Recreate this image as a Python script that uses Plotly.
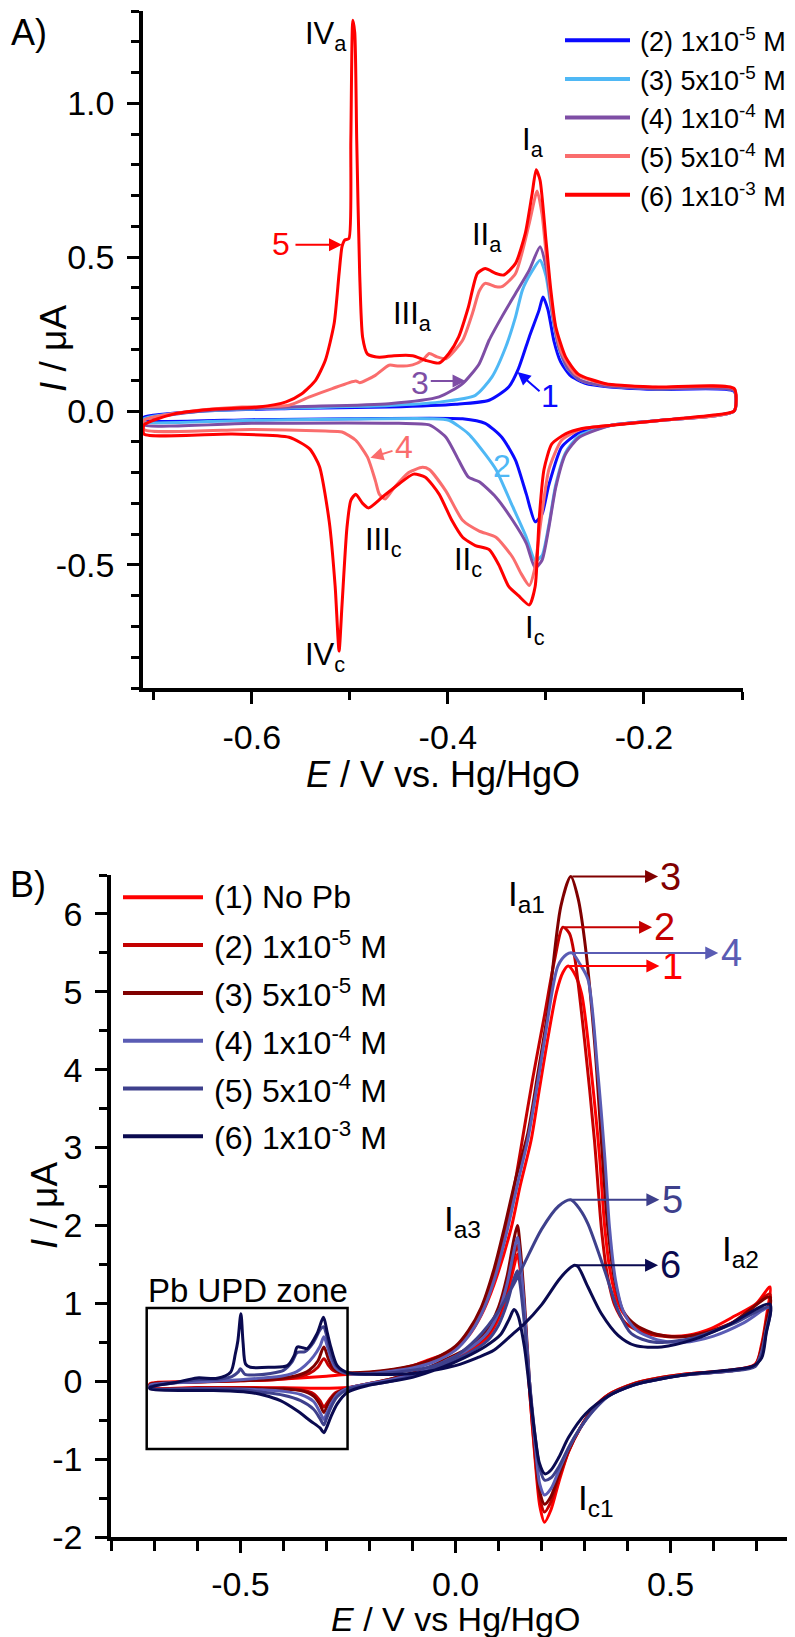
import plotly.graph_objects as go

W, H = 795, 1637
FONT = "Liberation Sans, Arial, sans-serif"

# ---------------- panel A : Pb UPD region, five Pb concentrations ----------------
a_names = ["(2) 1x10<sup>-5</sup> M", "(3) 5x10<sup>-5</sup> M", "(4) 1x10<sup>-4</sup> M",
           "(5) 5x10<sup>-4</sup> M", "(6) 1x10<sup>-3</sup> M"]
a_colors = ["#0a0aff", "#4fb8f5", "#7e4ea5", "#fa6d6d", "#ff0000"]

a2_e = [-0.710, -0.650, -0.560, -0.460, -0.392, -0.358, -0.338, -0.328, -0.317, -0.307, -0.303,
        -0.298, -0.292, -0.285, -0.275, -0.260, -0.235, -0.188, -0.108,
        -0.108, -0.182, -0.233, -0.266, -0.284, -0.297, -0.304, -0.311, -0.320, -0.331, -0.345,
        -0.362, -0.385, -0.500, -0.600, -0.710, -0.710]
a2_i = [-0.020, 0.000, 0.008, 0.013, 0.022, 0.035, 0.078, 0.138, 0.241, 0.328, 0.371,
        0.330, 0.230, 0.160, 0.115, 0.090, 0.078, 0.070, 0.064,
        0.000, -0.030, -0.046, -0.070, -0.117, -0.240, -0.335, -0.360, -0.270, -0.160, -0.085,
        -0.040, -0.025, -0.025, -0.028, -0.030, -0.020]

a3_e = [-0.710, -0.650, -0.560, -0.460, -0.409, -0.372, -0.355, -0.341, -0.331, -0.324, -0.315,
        -0.306, -0.300, -0.294, -0.287, -0.278, -0.265, -0.240, -0.188, -0.108,
        -0.108, -0.182, -0.233, -0.266, -0.280, -0.290, -0.297, -0.304, -0.311, -0.320, -0.334,
        -0.351, -0.362, -0.379, -0.399, -0.419, -0.600, -0.710, -0.710]
a3_i = [-0.025, 0.000, 0.010, 0.018, 0.029, 0.051, 0.111, 0.208, 0.306, 0.393, 0.450,
        0.490, 0.440, 0.320, 0.205, 0.138, 0.100, 0.082, 0.072, 0.066,
        0.000, -0.030, -0.046, -0.080, -0.135, -0.240, -0.370, -0.470, -0.486, -0.410, -0.310,
        -0.190, -0.140, -0.074, -0.030, -0.025, -0.030, -0.035, -0.025]

a4_e = [-0.710, -0.650, -0.562, -0.460, -0.409, -0.385, -0.368, -0.358, -0.345, -0.331, -0.317,
        -0.306, -0.300, -0.294, -0.287, -0.278, -0.265, -0.240, -0.188, -0.108,
        -0.108, -0.182, -0.233, -0.266, -0.280, -0.290, -0.297, -0.304, -0.311, -0.320, -0.334,
        -0.351, -0.368, -0.379, -0.389, -0.402, -0.419, -0.450, -0.600, -0.710, -0.710]
a4_i = [-0.030, 0.000, 0.013, 0.024, 0.046, 0.089, 0.154, 0.230, 0.306, 0.382, 0.458,
        0.534, 0.470, 0.330, 0.210, 0.140, 0.100, 0.082, 0.072, 0.066,
        0.000, -0.030, -0.046, -0.085, -0.140, -0.248, -0.378, -0.485, -0.510, -0.430, -0.355,
        -0.280, -0.230, -0.215, -0.160, -0.085, -0.045, -0.040, -0.040, -0.045, -0.030]

a5_e = [-0.710, -0.660, -0.610, -0.562, -0.541, -0.518, -0.494, -0.490, -0.474, -0.460, -0.450,
        -0.436, -0.426, -0.419, -0.411, -0.402, -0.385, -0.375, -0.368, -0.362, -0.352, -0.345,
        -0.331, -0.317, -0.309, -0.304, -0.298, -0.292, -0.284, -0.270, -0.240, -0.188, -0.108,
        -0.108, -0.182, -0.233, -0.265, -0.284, -0.297, -0.305, -0.312, -0.317, -0.325, -0.334,
        -0.351, -0.368, -0.385, -0.402, -0.419, -0.426, -0.440, -0.455, -0.464, -0.470, -0.474,
        -0.482, -0.494, -0.508, -0.525, -0.600, -0.710, -0.710]
a5_i = [-0.030, 0.000, 0.013, 0.019, 0.046, 0.073, 0.098, 0.092, 0.116, 0.149, 0.146,
        0.150, 0.165, 0.187, 0.176, 0.170, 0.230, 0.317, 0.390, 0.415, 0.405, 0.404,
        0.447, 0.610, 0.715, 0.640, 0.450, 0.300, 0.190, 0.120, 0.088, 0.077, 0.072,
        0.000, -0.030, -0.046, -0.060, -0.095, -0.190, -0.355, -0.520, -0.567, -0.530, -0.475,
        -0.410, -0.390, -0.355, -0.260, -0.190, -0.183, -0.200, -0.250, -0.286, -0.270, -0.226,
        -0.150, -0.095, -0.068, -0.065, -0.060, -0.060, -0.030]

a6_e = [-0.710, -0.680, -0.643, -0.593, -0.565, -0.549, -0.535, -0.525, -0.516, -0.511, -0.508,
        -0.505, -0.501, -0.499, -0.497, -0.495, -0.493, -0.490, -0.487, -0.482, -0.470, -0.455,
        -0.436, -0.423, -0.409, -0.399, -0.389, -0.379, -0.370, -0.362, -0.351, -0.343, -0.331,
        -0.321, -0.314, -0.310, -0.306, -0.300, -0.295, -0.290, -0.280, -0.267, -0.239, -0.188,
        -0.108,
        -0.108, -0.131, -0.182, -0.233, -0.263, -0.280, -0.294, -0.302, -0.307, -0.311, -0.317,
        -0.328, -0.338, -0.348, -0.358, -0.372, -0.385, -0.396, -0.409, -0.423, -0.435, -0.450,
        -0.467, -0.481, -0.487, -0.494, -0.499, -0.503, -0.508, -0.511, -0.515, -0.521, -0.531,
        -0.541, -0.562, -0.620, -0.710, -0.710]
a6_i = [-0.045, -0.010, 0.005, 0.013, 0.030, 0.056, 0.100, 0.165, 0.285, 0.447, 0.534,
        0.556, 0.560, 0.880, 1.270, 1.230, 0.880, 0.447, 0.240, 0.185, 0.175, 0.180,
        0.180, 0.165, 0.156, 0.187, 0.241, 0.339, 0.447, 0.463, 0.447, 0.442, 0.480,
        0.578, 0.708, 0.784, 0.750, 0.556, 0.393, 0.274, 0.176, 0.120, 0.089, 0.078,
        0.073,
        0.000, -0.014, -0.030, -0.046, -0.057, -0.074, -0.107, -0.190, -0.355, -0.570, -0.630,
        -0.600, -0.570, -0.500, -0.450, -0.437, -0.410, -0.355, -0.270, -0.215, -0.205, -0.237,
        -0.280, -0.315, -0.300, -0.270, -0.290, -0.380, -0.630, -0.780, -0.570, -0.360, -0.180,
        -0.123, -0.085, -0.075, -0.075, -0.045]

a_curves = [(a2_e, a2_i), (a3_e, a3_i), (a4_e, a4_i), (a5_e, a5_i), (a6_e, a6_i)]

a_xticks = [-0.6, -0.4, -0.2]
a_xtext = ["-0.6", "-0.4", "-0.2"]
a_yticks = [-0.5, 0.0, 0.5, 1.0]
a_ytext = ["-0.5", "0.0", "0.5", "1.0"]

# ---------------- panel B : full window, six solutions ----------------
b_names = ["(1) No Pb", "(2) 1x10<sup>-5</sup> M", "(3) 5x10<sup>-5</sup> M",
           "(4) 1x10<sup>-4</sup> M", "(5) 5x10<sup>-4</sup> M", "(6) 1x10<sup>-3</sup> M"]
b_colors = ["#ff0000", "#c40000", "#800000", "#5a5cb4", "#3e408c", "#0a0a50"]

rev_e = [0.722, 0.712, 0.697, 0.637, 0.531, 0.450, 0.414, 0.356, 0.320, 0.290, 0.263, 0.240,
         0.222, 0.207, 0.196, 0.185, 0.172, 0.160, 0.150, 0.144, 0.135, 0.120, 0.100, 0.074,
         0.027, -0.027, -0.065, -0.150, -0.250]

b1_e = [-0.710, -0.600, -0.500, -0.400, -0.300, -0.250, -0.200, -0.150, -0.100, -0.065, -0.030,
        0.000, 0.030, 0.060, 0.090, 0.130, 0.150, 0.176, 0.195, 0.214, 0.235, 0.250, 0.262, 0.275,
        0.293, 0.316, 0.335, 0.347, 0.360, 0.378, 0.401, 0.440, 0.494, 0.540, 0.595, 0.650, 0.700,
        0.731] + rev_e + [-0.400, -0.500, -0.600, -0.710, -0.710]
b1_i = [-0.030, -0.005, 0.005, 0.030, 0.065, 0.090, 0.110, 0.140, 0.200, 0.270, 0.340,
        0.420, 0.580, 0.850, 1.250, 1.980, 2.500, 3.100, 3.750, 4.380, 5.000, 5.250, 5.330, 5.250,
        4.980, 3.960, 2.880, 1.980, 1.400, 1.000, 0.800, 0.640, 0.580, 0.590, 0.680, 0.840, 1.000,
        1.210,
        0.800, 0.480, 0.220, 0.140, 0.090, 0.020, -0.030, -0.170, -0.350, -0.600, -0.900, -1.300,
        -1.650, -1.810, -1.600, -1.000, -0.100, 0.900, 1.450, 1.630, 1.450, 1.100, 0.800, 0.560,
        0.380, 0.250, 0.150, 0.020, -0.080, -0.085, -0.080, -0.080, -0.080, -0.030]

b2_e = [-0.710, -0.600, -0.500, -0.420, -0.370, -0.340, -0.320, -0.306, -0.295, -0.285, -0.270,
        -0.250, -0.200, -0.100, -0.050, 0.000, 0.030, 0.060, 0.090, 0.118, 0.140, 0.160, 0.180,
        0.207, 0.230, 0.250, 0.265, 0.277, 0.300, 0.323, 0.339, 0.352, 0.370, 0.395, 0.440, 0.494,
        0.540, 0.600, 0.660, 0.731] + rev_e + [-0.280, -0.295, -0.306, -0.315, -0.330, -0.360,
        -0.400, -0.500, -0.600, -0.710, -0.710]
b2_i = [-0.040, -0.010, 0.005, 0.020, 0.050, 0.100, 0.180, 0.290, 0.200, 0.140, 0.110,
        0.100, 0.110, 0.190, 0.270, 0.420, 0.600, 0.900, 1.350, 1.980, 2.600, 3.250, 3.900,
        4.700, 5.400, 5.830, 5.750, 5.450, 4.380, 3.100, 1.980, 1.400, 0.980, 0.750, 0.620, 0.570,
        0.580, 0.660, 0.800, 1.120,
        0.750, 0.450, 0.210, 0.140, 0.090, 0.020, -0.030, -0.170, -0.350, -0.600, -0.900, -1.250,
        -1.550, -1.680, -1.500, -0.950, -0.100, 0.950, 1.550, 1.750, 1.580, 1.200, 0.850, 0.600,
        0.400, 0.260, 0.160, 0.030, -0.090, -0.150, -0.250, -0.330, -0.250, -0.160, -0.110,
        -0.090, -0.085, -0.085, -0.085, -0.040]

b3_e = [-0.710, -0.600, -0.500, -0.420, -0.370, -0.340, -0.320, -0.306, -0.295, -0.285, -0.270,
        -0.250, -0.200, -0.100, -0.050, 0.000, 0.030, 0.060, 0.090, 0.114, 0.140, 0.168, 0.190,
        0.214, 0.245, 0.268, 0.285, 0.300, 0.323, 0.339, 0.354, 0.370, 0.390, 0.420, 0.470, 0.520,
        0.580, 0.640, 0.731] + rev_e + [-0.280, -0.295, -0.306, -0.315, -0.330, -0.360, -0.400,
        -0.500, -0.600, -0.710, -0.710]
b3_i = [-0.040, -0.010, 0.010, 0.030, 0.070, 0.140, 0.260, 0.440, 0.280, 0.170, 0.120,
        0.110, 0.120, 0.200, 0.290, 0.450, 0.650, 0.950, 1.450, 1.980, 2.600, 3.180, 3.900,
        4.720, 6.100, 6.480, 6.200, 5.670, 4.380, 3.100, 1.980, 1.300, 0.900, 0.720, 0.600, 0.570,
        0.620, 0.740, 1.080,
        0.720, 0.430, 0.200, 0.130, 0.080, 0.010, -0.040, -0.180, -0.360, -0.600, -0.880, -1.200,
        -1.480, -1.580, -1.420, -0.850, 0.000, 1.050, 1.750, 2.000, 1.800, 1.350, 0.950, 0.660,
        0.420, 0.270, 0.170, 0.030, -0.090, -0.170, -0.280, -0.400, -0.300, -0.190, -0.120,
        -0.100, -0.090, -0.090, -0.090, -0.040]

b4_e = [-0.710, -0.600, -0.500, -0.450, -0.400, -0.370, -0.350, -0.330, -0.315, -0.306, -0.298,
        -0.290, -0.280, -0.265, -0.250, -0.200, -0.100, -0.050, 0.000, 0.030, 0.060, 0.090,
        0.122, 0.145, 0.168, 0.190, 0.207, 0.238, 0.258, 0.271, 0.290, 0.308, 0.331, 0.347, 0.358,
        0.372, 0.390, 0.420, 0.470, 0.530, 0.600, 0.670, 0.731] + rev_e + [-0.275, -0.290, -0.300,
        -0.306, -0.315, -0.330, -0.360, -0.400, -0.450, -0.500, -0.600, -0.710, -0.710]
b4_i = [-0.050, -0.010, 0.020, 0.040, 0.070, 0.120, 0.200, 0.320, 0.450, 0.570, 0.450,
        0.300, 0.180, 0.120, 0.100, 0.100, 0.170, 0.250, 0.400, 0.580, 0.860, 1.300,
        1.980, 2.550, 3.100, 3.800, 4.380, 5.330, 5.480, 5.500, 5.350, 5.160, 3.960, 2.880, 1.980,
        1.300, 0.900, 0.660, 0.530, 0.500, 0.580, 0.750, 0.950,
        0.650, 0.380, 0.200, 0.130, 0.080, 0.000, -0.050, -0.190, -0.380, -0.600, -0.860, -1.150,
        -1.380, -1.460, -1.320, -0.800, 0.000, 0.950, 1.600, 1.850, 1.650, 1.250, 0.880, 0.620,
        0.400, 0.250, 0.150, 0.020, -0.090, -0.170, -0.300, -0.420, -0.490, -0.400, -0.260,
        -0.170, -0.130, -0.110, -0.100, -0.095, -0.090, -0.050]

b5_e = [-0.710, -0.650, -0.600, -0.550, -0.520, -0.505, -0.500, -0.490, -0.470, -0.430, -0.400,
        -0.380, -0.368, -0.350, -0.330, -0.315, -0.307, -0.298, -0.290, -0.278, -0.260, -0.250,
        -0.200, -0.100, -0.050, 0.000, 0.050, 0.100, 0.150, 0.200, 0.240, 0.268, 0.290, 0.308,
        0.347, 0.378, 0.409, 0.463, 0.556, 0.650, 0.731] + rev_e + [-0.275, -0.290, -0.300,
        -0.306, -0.315, -0.330, -0.360, -0.400, -0.450, -0.500, -0.600, -0.710, -0.710]
b5_i = [-0.070, -0.020, 0.020, 0.030, 0.060, 0.120, 0.160, 0.090, 0.080, 0.100, 0.140,
        0.250, 0.370, 0.380, 0.500, 0.660, 0.700, 0.550, 0.360, 0.200, 0.120, 0.100,
        0.090, 0.140, 0.200, 0.320, 0.550, 0.900, 1.400, 1.950, 2.250, 2.330, 2.200, 2.020,
        1.420, 0.910, 0.610, 0.500, 0.560, 0.750, 0.950,
        0.620, 0.350, 0.190, 0.130, 0.080, 0.000, -0.050, -0.190, -0.380, -0.600, -0.850, -1.100,
        -1.240, -1.270, -1.120, -0.700, 0.000, 0.750, 1.250, 1.420, 1.300, 1.000, 0.720, 0.520,
        0.350, 0.220, 0.130, 0.000, -0.100, -0.200, -0.340, -0.480, -0.560, -0.480, -0.360,
        -0.250, -0.180, -0.140, -0.110, -0.100, -0.090, -0.070]

b6_e = [-0.710, -0.648, -0.601, -0.554, -0.523, -0.512, -0.506, -0.499, -0.494, -0.488, -0.477,
        -0.430, -0.391, -0.375, -0.368, -0.355, -0.345, -0.322, -0.307, -0.298, -0.290, -0.275,
        -0.251, -0.200, -0.100, -0.050, 0.000, 0.050, 0.090, 0.136, 0.157, 0.200, 0.240, 0.265,
        0.277, 0.285, 0.308, 0.339, 0.378, 0.417, 0.479, 0.556, 0.634, 0.731,
        0.722, 0.712, 0.690, 0.632, 0.531, 0.450, 0.414, 0.356, 0.302, 0.263, 0.240, 0.222, 0.208,
        0.195, 0.185, 0.172, 0.160, 0.145, 0.136, 0.125, 0.105, 0.070, 0.020, -0.030, -0.100,
        -0.200, -0.251, -0.275, -0.290, -0.300, -0.306, -0.315, -0.337, -0.368, -0.407, -0.445,
        -0.484, -0.562, -0.710, -0.710]
b6_i = [-0.080, -0.013, 0.043, 0.039, 0.116, 0.350, 0.520, 0.866, 0.500, 0.220, 0.180,
        0.180, 0.200, 0.330, 0.440, 0.430, 0.420, 0.610, 0.820, 0.620, 0.440, 0.200,
        0.110, 0.090, 0.100, 0.140, 0.200, 0.300, 0.400, 0.620, 0.720, 0.980, 1.300, 1.450,
        1.490, 1.470, 1.210, 0.870, 0.590, 0.460, 0.440, 0.540, 0.720, 0.990,
        0.600, 0.300, 0.190, 0.140, 0.080, 0.000, -0.050, -0.190, -0.420, -0.720, -0.980, -1.140,
        -1.190, -1.050, -0.700, -0.100, 0.450, 0.850, 0.920, 0.800, 0.600, 0.450, 0.300, 0.180,
        0.050, -0.050, -0.140, -0.290, -0.460, -0.600, -0.660, -0.600, -0.510, -0.380, -0.250,
        -0.180, -0.140, -0.120, -0.100, -0.080]

b_curves = [(b1_e, b1_i), (b2_e, b2_i), (b3_e, b3_i), (b4_e, b4_i), (b5_e, b5_i), (b6_e, b6_i)]
b_arrow_end = [0.474, 0.457, 0.471, 0.611, 0.474, 0.471]   # where each peak arrow stops

b_xticks = [-0.5, 0.0, 0.5]
b_xtext = ["-0.5", "0.0", "0.5"]
b_yticks = [-2, -1, 0, 1, 2, 3, 4, 5, 6]
b_ytext = ["-2", "-1", "0", "1", "2", "3", "4", "5", "6"]


def px(x):
    return x / W


def py(y):
    return 1 - y / H


fig = go.Figure()

for (e, i), c, n in zip(a_curves, a_colors, a_names):
    fig.add_trace(go.Scatter(x=e, y=i, mode="lines", name=n,
                             line=dict(color=c, width=3, shape="spline", smoothing=0.6),
                             xaxis="x", yaxis="y"))
for (e, i), c, n in zip(b_curves, b_colors, b_names):
    fig.add_trace(go.Scatter(x=e, y=i, mode="lines", name=n,
                             line=dict(color=c, width=3, shape="spline", smoothing=0.8),
                             xaxis="x2", yaxis="y2"))

axis_style = dict(showline=True, linewidth=3.5, linecolor="black", ticks="outside",
                  ticklen=12, tickwidth=3, tickcolor="black", showgrid=False, zeroline=False,
                  tickfont=dict(size=34, color="black"), automargin=False, tickmode="array")

fig.update_layout(
    width=W, height=H, margin=dict(l=0, r=0, t=0, b=0),
    plot_bgcolor="white", paper_bgcolor="white", showlegend=False,
    font=dict(family=FONT, color="black"),
    xaxis=dict(axis_style, domain=[px(135), px(735)], anchor="y", range=[-0.711, -0.099],
               tickvals=a_xticks, ticktext=a_xtext, ticklabelstandoff=4,
               minor=dict(tickmode="array", tickvals=[-0.7, -0.5, -0.3, -0.1], ticks="outside",
                          ticklen=8, tickwidth=3, tickcolor="black")),
    yaxis=dict(axis_style, domain=[py(680), py(3)], anchor="x", range=[-0.9, 1.3],
               tickvals=a_yticks, ticktext=a_ytext, ticklabelstandoff=6,
               minor=dict(tickmode="linear", tick0=0, dtick=0.1, ticks="outside",
                          ticklen=8, tickwidth=3, tickcolor="black")),
    xaxis2=dict(axis_style, domain=[px(103), px(792)], anchor="y2", range=[-0.801, 0.801],
                tickvals=b_xticks, ticktext=b_xtext, ticklabelstandoff=2,
                minor=dict(tickmode="linear", tick0=0, dtick=0.1, ticks="outside",
                           ticklen=10, tickwidth=3, tickcolor="black")),
    yaxis2=dict(axis_style, domain=[py(1529), py(867)], anchor="x2", range=[-2, 6.5],
                tickvals=b_yticks, ticktext=b_ytext, ticklabelstandoff=6,
                minor=dict(tickmode="linear", tick0=0, dtick=0.5, ticks="outside",
                           ticklen=8, tickwidth=3, tickcolor="black")),
)

ann = []
shapes = []


def label(x, y, text, size, color="black", ref="", **kw):
    d = dict(x=x, y=y, text=text, showarrow=False, font=dict(size=size, color=color),
             xanchor="center", yanchor="middle")
    if ref == "paper":
        d.update(xref="paper", yref="paper")
    else:
        d.update(xref="x" + ref, yref="y" + ref)
    d.update(kw)
    ann.append(d)


def arrow(x0, y0, x1, y1, color, ref=""):
    ann.append(dict(x=x1, y=y1, ax=x0, ay=y0, xref="x" + ref, yref="y" + ref,
                    axref="x" + ref, ayref="y" + ref, text="", showarrow=True,
                    arrowhead=2, arrowsize=1.3, arrowwidth=2, arrowcolor=color, standoff=0))


# panel letters and axis titles
label(px(21), py(25), "A)", 36, ref="paper")
label(px(20), py(876), "B)", 36, ref="paper")
label(px(46), py(341), "<i>I</i> / \u03bcA", 37, ref="paper", textangle=-90)
label(px(435), py(766), "<i>E</i> / V vs. Hg/HgO", 36, ref="paper")
label(px(36), py(1198), "<i>I</i> / \u03bcA", 37, ref="paper", textangle=-90)
label(px(447), py(1611), "<i>E</i> / V vs Hg/HgO", 34, ref="paper")

# panel A peak labels
label(-0.524, 1.22, "IV<sub>a</sub>", 31)
label(-0.436, 0.31, "III<sub>a</sub>", 31)
label(-0.360, 0.567, "II<sub>a</sub>", 31)
label(-0.3135, 0.873, "I<sub>a</sub>", 31)
label(-0.466, -0.427, "III<sub>c</sub>", 31)
label(-0.525, -0.798, "IV<sub>c</sub>", 31)
label(-0.380, -0.489, "II<sub>c</sub>", 31)
label(-0.3114, -0.71, "I<sub>c</sub>", 31)

# panel A curve numbers with arrows
label(-0.570, 0.544, "5", 32, a_colors[4])
arrow(-0.557, 0.54, -0.508, 0.54, a_colors[4])
label(-0.428, 0.092, "3", 32, a_colors[2])
arrow(-0.419, 0.098, -0.382, 0.098, a_colors[2])
label(-0.296, 0.049, "1", 32, a_colors[0])
arrow(-0.305, 0.06, -0.329, 0.127, a_colors[0])
label(-0.445, -0.117, "4", 32, a_colors[3])
arrow(-0.455, -0.128, -0.479, -0.152, a_colors[3])
label(-0.345, -0.177, "2", 32, a_colors[1])

# panel A legend
for k, (n, c) in enumerate(zip(a_names, a_colors)):
    yy = 32.3 + 38.6 * k
    shapes.append(dict(type="line", xref="paper", yref="paper", x0=px(557), x1=px(622),
                       y0=py(yy), y1=py(yy), line=dict(color=c, width=4)))
    label(px(630), py(yy), n, 27, ref="paper", xanchor="left")

# panel B labels
label(0.166, 6.23, "I<sub>a1</sub>", 35, ref="2")
label(0.017, 2.06, "I<sub>a3</sub>", 35, ref="2")
label(0.662, 1.67, "I<sub>a2</sub>", 35, ref="2")
label(0.327, -1.52, "I<sub>c1</sub>", 35, ref="2")
label(-0.482, 1.17, "Pb UPD zone", 33, ref="2")
shapes.append(dict(type="rect", xref="x2", yref="y2", x0=-0.718, x1=-0.251, y0=-0.87, y1=0.94,
                   line=dict(color="black", width=2.5)))

# panel B peak arrows, starting from the Ia1 maximum of each curve
for k, ((e, i), c) in enumerate(zip(b_curves, b_colors)):
    top = max(v for x, v in zip(e, i) if 0.2 <= x <= 0.35)
    e_top = [x for x, v in zip(e, i) if v == top and 0.2 <= x <= 0.35][0]
    arrow(e_top, top, b_arrow_end[k], top, c, ref="2")
    label(b_arrow_end[k] + 0.03, top, str(k + 1), 38, c, ref="2")

# panel B legend
for k, (n, c) in enumerate(zip(b_names, b_colors)):
    yy = 889.3 + 47.8 * k
    shapes.append(dict(type="line", xref="paper", yref="paper", x0=px(115), x1=px(195),
                       y0=py(yy), y1=py(yy), line=dict(color=c, width=4)))
    label(px(204), py(yy), n, 32, ref="paper", xanchor="left")

fig.update_layout(annotations=ann, shapes=shapes)
fig.write_html("out.html")
